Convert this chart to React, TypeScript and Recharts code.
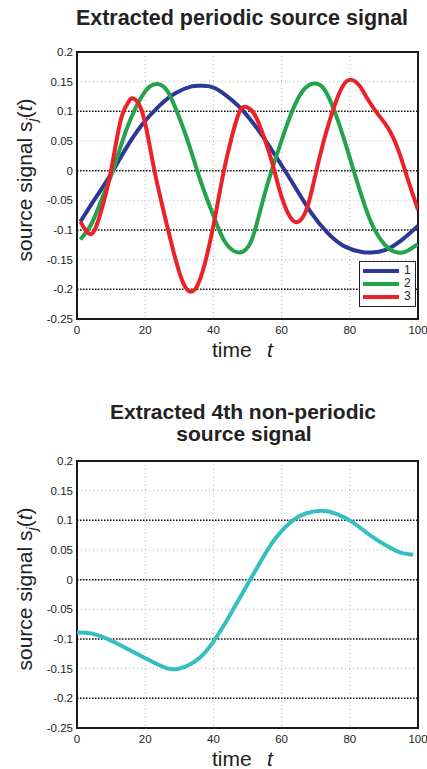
import React from 'react';
import {
  LineChart,
  Line,
  XAxis,
  YAxis,
  CartesianGrid,
  ReferenceLine,
  ReferenceArea,
  Legend,
} from 'recharts';

// ---------- axes ----------
const xTicks = [0, 20, 40, 60, 80, 100];
const yTicks = [-0.25, -0.2, -0.15, -0.1, -0.05, 0, 0.05, 0.1, 0.15, 0.2];
const darkGridValues = [0.1, 0, -0.1, -0.2];

// ---------- top chart: periodic signals ----------
const s1Time = [1, 5.3, 9.2, 14.1, 19, 23.9, 28.7, 33.6, 36.6, 40.5, 45.4, 49.3, 54.2, 59, 63.9, 68.8, 73.7, 78.6, 83.5, 86.4, 90.3, 95.2, 100];
const s1Value = [-0.086, -0.047, -0.013, 0.035, 0.077, 0.108, 0.13, 0.142, 0.143, 0.139, 0.119, 0.097, 0.06, 0.018, -0.027, -0.072, -0.106, -0.128, -0.137, -0.138, -0.134, -0.117, -0.093];

const s2Time = [1, 4.3, 7.2, 10.2, 13.1, 16, 19, 21.4, 23.7, 26.3, 28.7, 31.7, 34.6, 37.5, 40.5, 43.4, 47.3, 50.2, 52.2, 55.1, 58.1, 61, 63.9, 66.9, 69.6, 72.3, 75.2, 78.1, 81.1, 84, 86.9, 90.3, 93.3, 96.2, 98.6, 100];
const s2Value = [-0.116, -0.089, -0.049, -0.005, 0.046, 0.091, 0.125, 0.142, 0.146, 0.136, 0.108, 0.063, 0.012, -0.038, -0.083, -0.12, -0.138, -0.128, -0.1, -0.038, 0.018, 0.068, 0.111, 0.139, 0.147, 0.139, 0.105, 0.057, 0.001, -0.052, -0.095, -0.125, -0.137, -0.137, -0.129, -0.124];

const s3Time = [1, 3.8, 6.3, 9.2, 11.1, 13.1, 15.1, 16.5, 18.5, 20.4, 22.9, 25.8, 28.7, 31.2, 33.4, 35.6, 38, 40.5, 42.9, 45.4, 47.8, 49.8, 51.7, 53.7, 56.1, 58.1, 60, 62.5, 64.9, 67.4, 69.8, 72.7, 75.6, 78.1, 80.5, 83, 85.4, 88.4, 91.3, 94.2, 97.1, 100];
const s3Value = [-0.086, -0.107, -0.083, -0.021, 0.035, 0.091, 0.116, 0.122, 0.108, 0.069, -0.005, -0.078, -0.145, -0.19, -0.204, -0.19, -0.145, -0.078, -0.005, 0.057, 0.101, 0.107, 0.098, 0.074, 0.035, -0.005, -0.044, -0.078, -0.086, -0.064, -0.01, 0.057, 0.111, 0.144, 0.153, 0.142, 0.119, 0.094, 0.071, 0.035, -0.016, -0.066];

const seriesNames = ['1', '2', '3'];
const seriesColors = ['#2c3796', '#22a34c', '#ec2229'];

// ---------- bottom chart: non-periodic signal ----------
const s4Time = [0, 4.5, 9.4, 14.3, 19.2, 24.1, 28, 32, 35.9, 39.8, 43.7, 47.6, 51.1, 54.5, 58.4, 63.3, 67.3, 71.7, 76.1, 81, 85.9, 90.8, 94.7, 98.6];
const s4Value = [-0.089, -0.091, -0.101, -0.115, -0.13, -0.144, -0.151, -0.146, -0.132, -0.106, -0.071, -0.032, 0.003, 0.037, 0.071, 0.1, 0.112, 0.116, 0.111, 0.096, 0.075, 0.057, 0.046, 0.042];
const s4Color = '#36bfc0';

const toPoints = (ts: number[], vs: number[]) => ts.map((t, i) => ({ t, v: vs[i] }));

const topSeries = [
  toPoints(s1Time, s1Value),
  toPoints(s2Time, s2Value),
  toPoints(s3Time, s3Value),
];
const bottomSeries = toPoints(s4Time, s4Value);

const FONT = '"Liberation Sans", Arial, Helvetica, sans-serif';
const tickStyle = { fontSize: 11.5, fill: '#222', fontFamily: FONT };

const LegendBox = () => (
  <div
    style={{
      border: '1px solid #222',
      background: '#fff',
      padding: '2px 3px 3px 3px',
      width: 57,
      boxSizing: 'border-box',
      fontFamily: FONT,
    }}
  >
    {seriesNames.map((n, i) => (
      <div key={n} style={{ display: 'flex', alignItems: 'center', height: 13 }}>
        <div style={{ width: 36, height: 4, background: seriesColors[i] }} />
        <span style={{ marginLeft: 5, fontSize: 12, lineHeight: '13px', color: '#222' }}>{n}</span>
      </div>
    ))}
  </div>
);

const plotDecor = () => [
  <CartesianGrid key="g" stroke="#b4b4b4" strokeDasharray="1 3" strokeWidth={1} />,
  ...darkGridValues.map((v) => (
    <ReferenceLine key={'r' + v} y={v} stroke="#111" strokeDasharray="1.5 1.5" strokeWidth={1.5} />
  )),
];

const axes = () => [
  <XAxis
    key="x"
    dataKey="t"
    type="number"
    domain={[0, 100]}
    ticks={xTicks}
    allowDataOverflow
    axisLine={false}
    tickLine={false}
    tickSize={0}
    tickMargin={7}
    height={20}
    tick={tickStyle}
    interval={0}
  />,
  <YAxis
    key="y"
    type="number"
    domain={[-0.25, 0.2]}
    ticks={yTicks}
    allowDataOverflow
    axisLine={false}
    tickLine={false}
    tickSize={0}
    tickMargin={4}
    width={40}
    tick={tickStyle}
    interval={0}
  />,
];

const YLabel = ({ cy }: { cy: number }) => (
  <text
    transform={`translate(32, ${cy}) rotate(-90)`}
    textAnchor="middle"
    fontSize={21}
    fontFamily={FONT}
    fill="#222"
  >
    source signal s
    <tspan fontStyle="italic" fontSize={14} dy={5}>j</tspan>
    <tspan dy={-5}>(</tspan>
    <tspan fontStyle="italic">t</tspan>
    <tspan>)</tspan>
  </text>
);

const XLabel = ({ y }: { y: number }) => (
  <g fontSize={21} fontFamily={FONT} fill="#222">
    <text x={212} y={y}>time</text>
    <text x={267} y={y} fontStyle="italic">t</text>
  </g>
);

export default function App() {
  return (
    <div style={{ position: 'absolute', left: 0, top: 0, width: 427, height: 769, background: '#fff' }}>
      <div style={{ position: 'absolute', left: 0, top: 0 }}>
        <LineChart width={427} height={345} margin={{ top: 52, right: 9, left: 37, bottom: 6 }}>
          {plotDecor()}
          {axes()}
          {topSeries.map((pts, i) => (
            <Line
              key={seriesNames[i]}
              data={pts}
              dataKey="v"
              name={seriesNames[i]}
              type="natural"
              stroke={seriesColors[i]}
              strokeWidth={4}
              strokeLinejoin="round"
              dot={false}
              activeDot={false}
              isAnimationActive={false}
            />
          ))}
          <ReferenceArea
            x1={0}
            x2={100}
            y1={-0.25}
            y2={0.2}
            fill="none"
            fillOpacity={0}
            stroke="#1a1a1a"
            strokeWidth={2}
            ifOverflow="visible"
          />
          <Legend
            layout="vertical"
            align="center"
            verticalAlign="middle"
            content={() => <LegendBox />}
            wrapperStyle={{ left: 359, top: 261, width: 57 }}
          />
        </LineChart>
      </div>

      <div style={{ position: 'absolute', left: 0, top: 400 }}>
        <LineChart width={427} height={350} margin={{ top: 61, right: 9, left: 37, bottom: 2 }}>
          {plotDecor()}
          {axes()}
          <Line
            data={bottomSeries}
            dataKey="v"
            name="4"
            type="natural"
            stroke={s4Color}
            strokeWidth={4}
            strokeLinejoin="round"
            dot={false}
            activeDot={false}
            isAnimationActive={false}
          />
          <ReferenceArea
            x1={0}
            x2={100}
            y1={-0.25}
            y2={0.2}
            fill="none"
            fillOpacity={0}
            stroke="#1a1a1a"
            strokeWidth={2}
            ifOverflow="visible"
          />
        </LineChart>
      </div>

      <svg
        width={427}
        height={769}
        style={{ position: 'absolute', left: 0, top: 0, pointerEvents: 'none' }}
      >
        <text x={242} y={25} textAnchor="middle" fontSize={21.5} fontWeight="bold" fontFamily={FONT} fill="#222">
          Extracted periodic source signal
        </text>
        <text x={243} y={419} textAnchor="middle" fontSize={21} fontWeight="bold" fontFamily={FONT} fill="#222">
          Extracted 4th non-periodic
        </text>
        <text x={244} y={441} textAnchor="middle" fontSize={21} fontWeight="bold" fontFamily={FONT} fill="#222">
          source signal
        </text>
        <YLabel cy={180} />
        <YLabel cy={589} />
        <XLabel y={357} />
        <XLabel y={766} />
      </svg>
    </div>
  );
}
